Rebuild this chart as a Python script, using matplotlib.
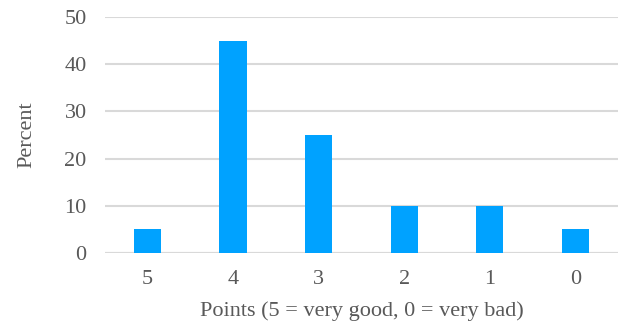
import matplotlib
matplotlib.use('Agg')
from matplotlib import pyplot as plt

points = ['5', '4', '3', '2', '1', '0']
percent = [5, 45, 25, 10, 10, 5]

plt.rcParams['font.family'] = ['Liberation Serif', 'DejaVu Serif']

fig = plt.figure(figsize=(6.2, 3.23), dpi=100)
ax = fig.add_axes([0.169, 0.217, 0.828, 0.730])

x = range(len(points))
ax.bar(x, percent, width=0.32, color='#00a2ff', zorder=3)
ax.set_xlim(-0.5, len(points) - 0.5)
ax.set_ylim(0, 50)
ax.set_yticks(range(0, 51, 10))
ax.set_xticks(list(x))
ax.set_xticklabels(points)
ax.yaxis.grid(True, color='#d9d9d9', linewidth=1.5, zorder=0)
for s in ax.spines.values():
    s.set_visible(False)
ax.axhline(0, color='#d9d9d9', linewidth=1.5, zorder=2)
ax.tick_params(length=0, labelsize=16, colors='#595959', pad=12)
ax.tick_params(axis='y', pad=13)
ax.set_ylabel('Percent', fontsize=16, color='#595959', labelpad=20)
ax.set_xlabel('Points (5 = very good, 0 = very bad)', fontsize=16, color='#595959', labelpad=9)

fig.savefig('out.png', dpi=100)
